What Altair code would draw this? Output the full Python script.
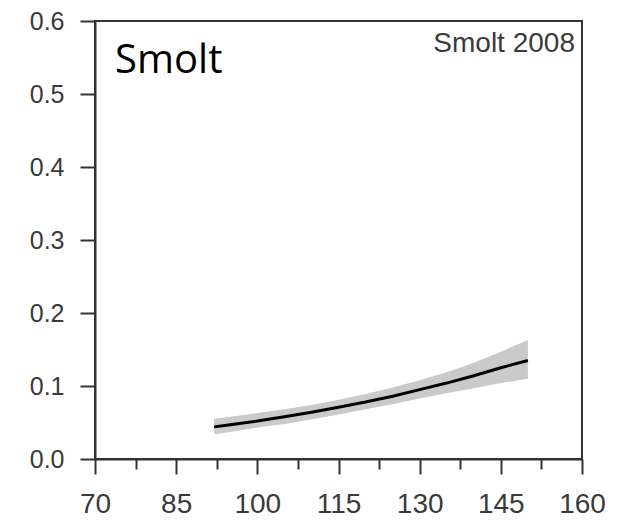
import altair as alt
import pandas as pd

# Fitted probability curve (Smolt 2008) with confidence band
length_mm = [92, 95, 100, 105, 110, 115, 120, 125, 130, 135, 140, 145, 150]
prob_fit = [0.044, 0.047, 0.052, 0.058, 0.064, 0.071, 0.078, 0.086, 0.095, 0.104, 0.114, 0.125, 0.135]
prob_upper = [0.055, 0.058, 0.063, 0.068, 0.074, 0.081, 0.089, 0.098, 0.108, 0.119, 0.132, 0.147, 0.163]
prob_lower = [0.034, 0.037, 0.043, 0.048, 0.054, 0.061, 0.068, 0.075, 0.083, 0.090, 0.097, 0.104, 0.110]

x_ticks = [70, 77.5, 85, 92.5, 100, 107.5, 115, 122.5, 130, 137.5, 145, 152.5, 160]
y_ticks = [0.0, 0.1, 0.2, 0.3, 0.4, 0.5, 0.6]

big_label = ["Smolt"]
big_label_x = [73.7]
big_label_y = [0.529]

panel_label = ["Smolt 2008"]
panel_label_x = [158.7]
panel_label_y = [0.5575]

df = pd.DataFrame({"length": length_mm, "fit": prob_fit, "upper": prob_upper, "lower": prob_lower})
df_big = pd.DataFrame({"t": big_label, "x": big_label_x, "y": big_label_y})
df_panel = pd.DataFrame({"t": panel_label, "x": panel_label_x, "y": panel_label_y})

FRAME = "#333333"
TXT = "#3a3a3a"

x_scale = alt.Scale(domain=[70, 160], nice=False, zero=False)
y_scale = alt.Scale(domain=[0, 0.6], nice=False, zero=False)

x_axis = alt.Axis(
    values=x_ticks,
    title=None,
    grid=False,
    labelExpr="datum.value % 15 == 10 ? datum.label : ''",
    tickSize={"condition": {"test": "datum.value % 15 == 10", "value": 15}, "value": 10},
    tickColor=FRAME,
    tickWidth=2,
    domainColor=FRAME,
    domainWidth=2,
    labelFont="Liberation Sans",
    labelFontSize=28,
    labelColor=TXT,
    labelPadding=16,
    labelFlush=False,
    labelOverlap=False,
)
y_axis = alt.Axis(
    values=y_ticks,
    format=".1f",
    title=None,
    grid=False,
    tickSize=15,
    tickColor=FRAME,
    tickWidth=2,
    domainColor=FRAME,
    domainWidth=2,
    labelFont="Liberation Sans",
    labelFontSize=25,
    labelColor=TXT,
    labelPadding=16,
    labelFlush=False,
    labelOverlap=False,
)

band = alt.Chart(df).mark_area(color="#cacaca", opacity=1).encode(
    x=alt.X("length:Q", scale=x_scale, axis=x_axis),
    y=alt.Y("lower:Q", scale=y_scale, axis=y_axis),
    y2="upper:Q",
)

line = alt.Chart(df).mark_line(color="black", strokeWidth=3).encode(
    x=alt.X("length:Q", scale=x_scale),
    y=alt.Y("fit:Q", scale=y_scale),
)

big = alt.Chart(df_big).mark_text(
    font="Open Sans", fontSize=40, color="black", align="left", baseline="alphabetic"
).encode(x=alt.X("x:Q", scale=x_scale), y=alt.Y("y:Q", scale=y_scale), text="t:N")

panel = alt.Chart(df_panel).mark_text(
    font="Liberation Sans", fontSize=28, color=TXT, align="right", baseline="alphabetic"
).encode(x=alt.X("x:Q", scale=x_scale), y=alt.Y("y:Q", scale=y_scale), text="t:N")

chart = (
    alt.layer(band, line, big, panel)
    .properties(
        width=487,
        height=438,
        autosize=alt.AutoSizeParams(type="none"),
        padding={"left": 95, "top": 21, "right": 39, "bottom": 62},
        background="white",
    )
    .configure_view(stroke=FRAME, strokeWidth=2)
)

chart.save("out.html", embed_options={"renderer": "svg", "actions": False})
